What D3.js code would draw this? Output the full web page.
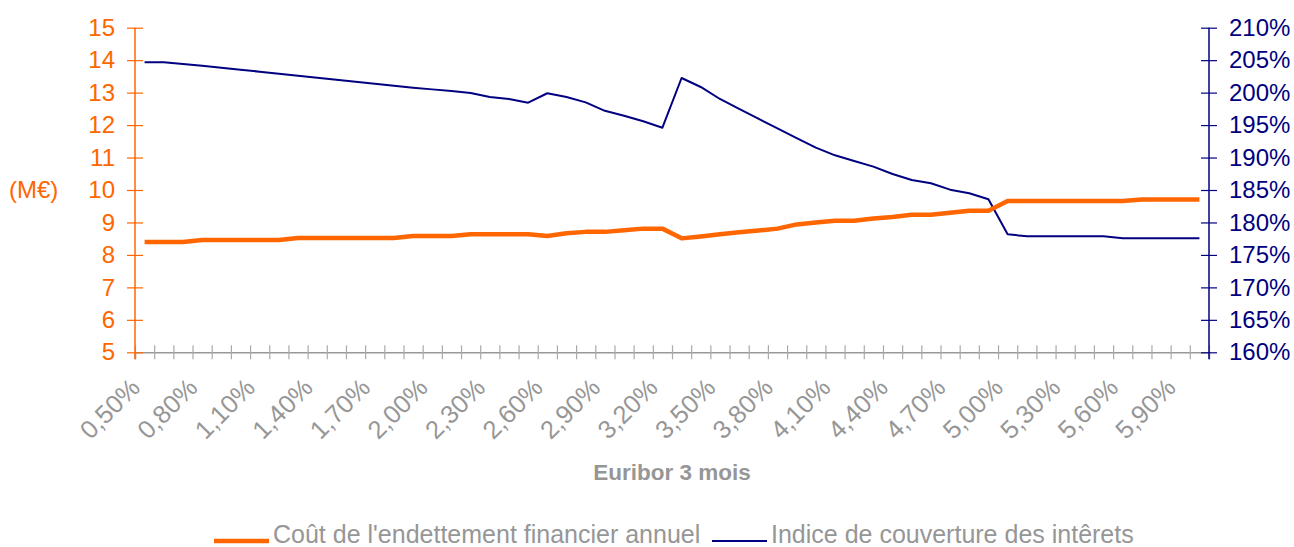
<!DOCTYPE html>
<html>
<head>
<meta charset="utf-8">
<script src="https://cdn.jsdelivr.net/npm/d3@7"></script>
<style>
html,body{margin:0;padding:0;background:#fff;}
svg{display:block;font-family:"Liberation Sans",Arial,sans-serif;}
</style>
</head>
<body>
<svg id="chart" width="1294" height="547"></svg>
<script>
const categories = ["0,50%","0,60%","0,70%","0,80%","0,90%","1,00%","1,10%","1,20%","1,30%","1,40%",
"1,50%","1,60%","1,70%","1,80%","1,90%","2,00%","2,10%","2,20%","2,30%","2,40%",
"2,50%","2,60%","2,70%","2,80%","2,90%","3,00%","3,10%","3,20%","3,30%","3,40%",
"3,50%","3,60%","3,70%","3,80%","3,90%","4,00%","4,10%","4,20%","4,30%","4,40%",
"4,50%","4,60%","4,70%","4,80%","4,90%","5,00%","5,10%","5,20%","5,30%","5,40%",
"5,50%","5,60%","5,70%","5,80%","5,90%","6,00%"];

const coutEndettement = [8.40,8.40,8.40,8.46,8.46,8.46,8.46,8.46,8.52,8.52,
8.52,8.52,8.52,8.52,8.58,8.58,8.58,8.64,8.64,8.64,
8.64,8.58,8.67,8.71,8.71,8.76,8.81,8.81,8.51,8.57,
8.64,8.70,8.75,8.81,8.94,9.00,9.05,9.05,9.12,9.17,
9.24,9.24,9.30,9.36,9.36,9.66,9.66,9.66,9.66,9.66,
9.66,9.66,9.71,9.71,9.71,9.71];

const indiceCouverture = [204.67,204.67,204.40,204.15,203.84,203.53,203.22,202.91,202.60,202.30,
201.99,201.68,201.37,201.07,200.76,200.50,200.25,199.94,199.33,199.02,
198.45,199.90,199.33,198.50,197.20,196.45,195.58,194.60,202.25,200.87,
199.02,197.50,195.98,194.50,193.00,191.52,190.34,189.47,188.60,187.46,
186.54,186.03,185.05,184.50,183.57,178.18,177.87,177.87,177.87,177.87,
177.87,177.56,177.56,177.56,177.56,177.56];

const leftTicks = [5,6,7,8,9,10,11,12,13,14,15];
const rightTicks = [160,165,170,175,180,185,190,195,200,205,210];
const labelEvery = 3;

const seriesNames = ["Coût de l'endettement financier annuel","Indice de couverture des intêrets"];
const xTitle = "Euribor 3 mois";
const leftUnit = "(M€)";

const ORANGE = "#FF6600", NAVY = "#000080", GREY = "#969696";

const svg = d3.select("#chart");
const L = 135, R = 1209, T = 27.7, B = 352.3;

const x = d3.scaleBand().domain(categories).range([L, R]).paddingInner(0).paddingOuter(0);
const xb = d3.scaleLinear().domain([0, categories.length]).range([L, R]);
const yL = d3.scaleLinear().domain([5, 15]).range([B, T]);
const yR = d3.scaleLinear().domain([1.60, 2.10]).range([B, T]);
const cx = c => x(c) + x.bandwidth() / 2;

// X axis
const gx = svg.append("g").attr("transform", `translate(0,${B})`)
  .call(d3.axisBottom(xb).tickValues(d3.range(0, categories.length + 1)).tickSize(7).tickFormat(""));
gx.select(".domain").attr("stroke", "#999").attr("stroke-width", 1.5);
gx.selectAll(".tick line").attr("stroke", "#aaa").attr("stroke-width", 1.2).attr("y1", -7);

const lab = svg.append("g");
categories.forEach((c, i) => {
  if (i % labelEvery !== 0) return;
  lab.append("text")
    .attr("transform", `translate(${cx(c) - 3},${B + 37}) rotate(-45)`)
    .attr("text-anchor", "end")
    .attr("fill", GREY)
    .attr("font-size", 25.5)
    .text(c);
});

svg.append("text").attr("x", 672).attr("y", 480).attr("text-anchor", "middle")
  .attr("fill", GREY).attr("font-size", 22.5).attr("font-weight", "bold").text(xTitle);

// Left axis
const gl = svg.append("g").attr("transform", `translate(${L},0)`)
  .call(d3.axisLeft(yL).tickValues(leftTicks).tickSize(8).tickPadding(12).tickFormat(d3.format("d")));
gl.select(".domain").attr("stroke", ORANGE).attr("stroke-width", 1.5).attr("d", `M0,${T}V${B + 7}`);
gl.selectAll(".tick line").attr("stroke", ORANGE).attr("stroke-width", 1.2).attr("x1", 8);
gl.selectAll(".tick text").attr("fill", ORANGE).attr("font-size", 24).attr("font-family", "Liberation Sans, Arial, sans-serif");

svg.append("text").attr("x", 9).attr("y", 190).attr("dy", "0.35em")
  .attr("fill", ORANGE).attr("font-size", 24).text(leftUnit);

// Right axis
const gr = svg.append("g").attr("transform", `translate(${R},0)`)
  .call(d3.axisRight(yR).tickValues(rightTicks.map(v => v / 100)).tickSize(8).tickPadding(12).tickFormat(d3.format(".0%")));
gr.select(".domain").attr("stroke", NAVY).attr("stroke-width", 1.5).attr("d", `M0,${T}V${B + 7}`);
gr.selectAll(".tick line").attr("stroke", NAVY).attr("stroke-width", 1.2).attr("x1", -8);
gr.selectAll(".tick text").attr("fill", NAVY).attr("font-size", 24).attr("font-family", "Liberation Sans, Arial, sans-serif");

// Lines
const lineL = d3.line().x((d, i) => cx(categories[i])).y(d => yL(d));
const lineR = d3.line().x((d, i) => cx(categories[i])).y(d => yR(d / 100));

svg.append("path").datum(indiceCouverture).attr("d", lineR)
  .attr("fill", "none").attr("stroke", NAVY).attr("stroke-width", 2).attr("stroke-linejoin", "round");
svg.append("path").datum(coutEndettement).attr("d", lineL)
  .attr("fill", "none").attr("stroke", ORANGE).attr("stroke-width", 4.5).attr("stroke-linejoin", "round");

// Legend
const leg = svg.append("g");
const legItems = [
  {name: seriesNames[0], color: ORANGE, w: 4.5, x0: 214},
  {name: seriesNames[1], color: NAVY, w: 2, x0: 712}
];
legItems.forEach(it => {
  leg.append("line").attr("x1", it.x0).attr("x2", it.x0 + 55).attr("y1", 541).attr("y2", 541)
    .attr("stroke", it.color).attr("stroke-width", it.w);
  leg.append("text").attr("x", it.x0 + 59).attr("y", 543)
    .attr("fill", GREY).attr("font-size", 25).text(it.name);
});
</script>
</body>
</html>
